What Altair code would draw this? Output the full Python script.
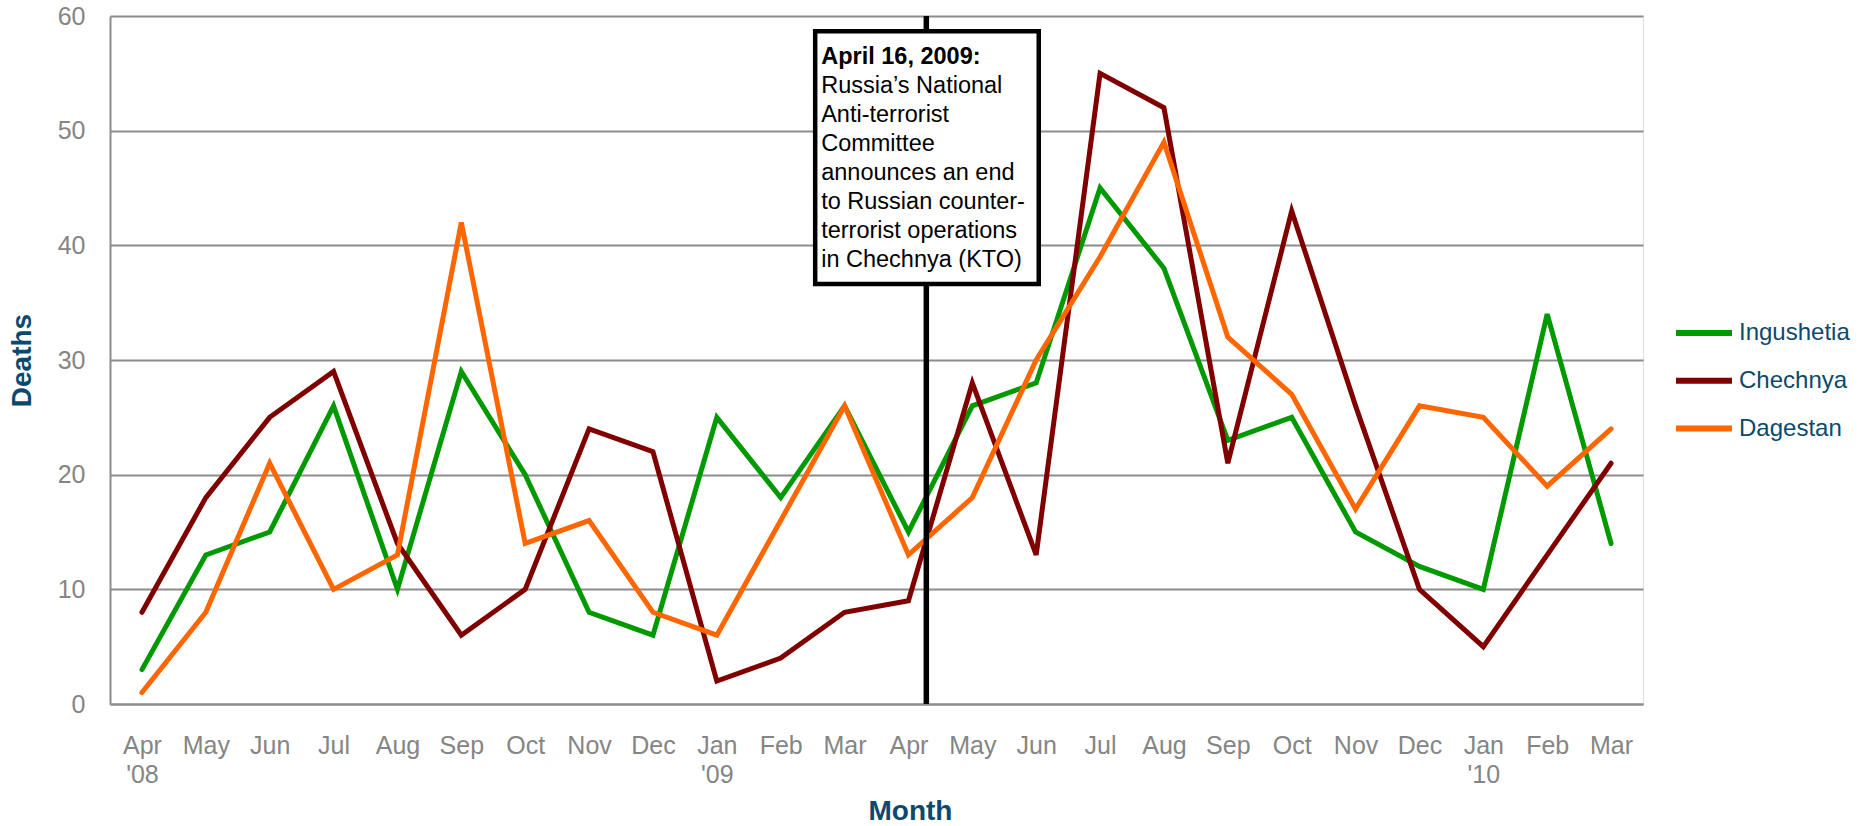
import json
import altair as alt
import pandas as pd

# Monthly deaths, April 2008 - March 2010
months = ["Apr|'08", "May", "Jun", "Jul", "Aug", "Sep", "Oct", "Nov", "Dec",
          "Jan|'09", "Feb", "Mar", "Apr", "May", "Jun", "Jul", "Aug", "Sep",
          "Oct", "Nov", "Dec", "Jan|'10", "Feb", "Mar"]
regions = ["Ingushetia", "Chechnya", "Dagestan"]
colors = ["#009900", "#800000", "#ff6600"]

ingushetia = [3, 13, 15, 26, 10, 29, 20, 8, 6, 25, 18, 26,
              15, 26, 28, 45, 38, 23, 25, 15, 12, 10, 34, 14]
chechnya = [8, 18, 25, 29, 14, 6, 10, 24, 22, 2, 4, 8,
            9, 28, 13, 55, 52, 21, 43, 26, 10, 5, 13, 21]
dagestan = [1, 8, 21, 10, 13, 42, 14, 16, 8, 6, 16, 26,
            13, 18, 30, 39, 49, 32, 27, 17, 26, 25, 19, 24]

# Event marker (month index, mid-April 2009) and its callout box extent
event_idx = [12.28]
box_x = [10.54]
box_x2 = [14.04]
box_top = [58.66]
box_bottom = [36.63]
event_head = ["April 16, 2009:"]
event_body = ["Russia\u2019s National\nAnti-terrorist\nCommittee\nannounces an end\n"
              "to Russian counter-\nterrorist operations\nin Chechnya (KTO)"]

rows = []
for name, series in zip(regions, [ingushetia, chechnya, dagestan]):
    for i, v in enumerate(series):
        rows.append({"region": name, "idx": i, "deaths": v})
df = pd.DataFrame(rows)

ev = pd.DataFrame({"idx": event_idx, "x": box_x, "x2": box_x2,
                   "top": box_top, "bottom": box_bottom,
                   "head": event_head, "body": event_body})

FONT = "Liberation Sans"
NAVY = "#0b4a6e"
GRID = "#8c8c8c"
LABEL = "#858585"

label_expr = "split(" + json.dumps(months) + "[datum.value], '|')"

x_scale = alt.Scale(domain=[-0.5, 23.5], nice=False, zero=False)
y_scale = alt.Scale(domain=[0, 60], nice=False)

lines = alt.Chart(df).mark_line(
    strokeWidth=5, strokeJoin="miter", strokeCap="round"
).encode(
    x=alt.X("idx:Q", scale=x_scale,
            axis=alt.Axis(values=list(range(24)), labelExpr=label_expr,
                          title="Month", grid=False, ticks=False, tickSize=0,
                          labelFontSize=25, labelColor=LABEL, labelFont=FONT,
                          labelPadding=29, labelLineHeight=29.5,
                          labelAlign="center", labelBaseline="top",
                          labelOverlap=False, labelFlush=False,
                          domainColor=GRID, domainWidth=2,
                          titleFontSize=28, titleFont=FONT, titleFontWeight="bold",
                          titleColor=NAVY, titleX=800, titleY=115,
                          titleBaseline="alphabetic", titleAlign="center")),
    y=alt.Y("deaths:Q", scale=y_scale,
            axis=alt.Axis(values=[0, 10, 20, 30, 40, 50, 60], title="Deaths",
                          grid=True, gridColor=GRID, gridWidth=2,
                          ticks=False, tickSize=0,
                          labelFontSize=25, labelColor=LABEL, labelFont=FONT,
                          labelPadding=25,
                          domainColor=GRID, domainWidth=2,
                          titleFontSize=28, titleFont=FONT, titleFontWeight="bold",
                          titleColor=NAVY, titleAngle=-90, titleX=-80, titleY=344,
                          titleBaseline="alphabetic", titleAlign="center")),
    color=alt.Color("region:N",
                    scale=alt.Scale(domain=regions, range=colors),
                    sort=regions,
                    legend=alt.Legend(title=None, orient="none",
                                      legendX=1563, legendY=286,
                                      symbolType="stroke", symbolSize=3136,
                                      symbolStrokeWidth=6, labelFontSize=24,
                                      labelFont=FONT, labelColor=NAVY,
                                      labelOffset=4, rowPadding=4.75,
                                      padding=0)),
    order=alt.Order("idx:Q")
)

rule = alt.Chart(ev).mark_rule(color="black", strokeWidth=5.5).encode(
    x=alt.X("idx:Q", scale=x_scale)
)

box = alt.Chart(ev).mark_rect(fill="white", stroke="black", strokeWidth=4.5).encode(
    x=alt.X("x:Q", scale=x_scale),
    x2="x2:Q",
    y=alt.Y("top:Q", scale=y_scale),
    y2="bottom:Q",
)

head = alt.Chart(ev).mark_text(
    align="left", baseline="alphabetic", dx=6, dy=33,
    fontSize=23.5, fontWeight="bold", font=FONT, color="black"
).encode(
    x=alt.X("x:Q", scale=x_scale),
    y=alt.Y("top:Q", scale=y_scale),
    text="head:N",
)

body = alt.Chart(ev).mark_text(
    align="left", baseline="alphabetic", dx=6, dy=62,
    fontSize=23.5, font=FONT, color="black", lineBreak="\n", lineHeight=28.9
).encode(
    x=alt.X("x:Q", scale=x_scale),
    y=alt.Y("top:Q", scale=y_scale),
    text="body:N",
)

chart = alt.layer(lines, rule, box, head, body).properties(
    width=1533, height=688,
    autosize=alt.AutoSizeParams(type="none"),
    padding={"left": 110, "top": 16, "right": 221, "bottom": 122},
).configure_view(stroke=None).configure(font=FONT)

chart.save("out.html", embed_options={"renderer": "svg", "actions": False})
